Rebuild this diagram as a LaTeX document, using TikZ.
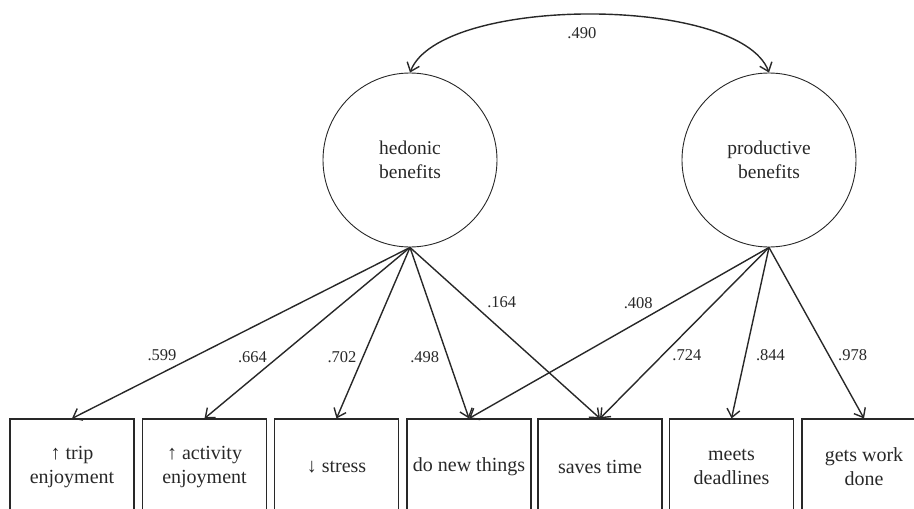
\documentclass[tikz,border=0pt]{standalone}
\usepackage{fontspec}
\setmainfont{Liberation Serif}
\usepackage{tikz}
\usetikzlibrary{arrows.meta}

\definecolor{ink}{RGB}{40,40,40}

\tikzset{
  latent/.style={draw=ink, line width=0.9pt, circle, minimum size=174pt, inner sep=0pt,
    align=center, text=ink, font=\fontsize{19.5}{23.5}\selectfont},
  indicator/.style={draw=ink, line width=1.1pt, rectangle, minimum width=124pt,
    minimum height=96pt, inner sep=0pt, align=center, text=ink, font=\fontsize{20}{24}\selectfont},
  loading/.style={draw=ink, line width=1.4pt, -{Straight Barb[length=8pt,width=13pt]}},
  coef/.style={text=ink, inner sep=0pt, font=\fontsize{16.5}{20}\selectfont}
}

\begin{document}
\begin{tikzpicture}[x=1pt, y=-1pt]
  \path[use as bounding box, clip] (0,0) rectangle (914,509);
  % latent factors
  \node[latent] (hed) at (410,160) {hedonic\\benefits};
  \node[latent] (prod) at (769,160) {productive\\benefits};
  % indicators
  \node[indicator] (trip) at (72,467) {↑ trip\\enjoyment};
  \node[indicator] (activ) at (204.5,467) {↑ activity\\enjoyment};
  \node[indicator] (stress) at (336.5,467) {↓ stress};
  \node[indicator] (newthings) at (469,467) {do new things};
  \node[indicator] (savetime) at (600,467) {saves time};
  \node[indicator] (deadl) at (731.5,467) {meets\\deadlines};
  \node[indicator] (workdone) at (864,467) {gets work\\done};
  % covariance between the factors
  \draw[loading, {Straight Barb[length=8pt,width=13pt]}-{Straight Barb[length=8pt,width=13pt]}]
    (hed.north) .. controls (440,-5) and (740,-5) .. (prod.north)
    node[coef, pos=0.5, xshift=-8pt, yshift=-19pt] {.490};
  % hedonic loadings
  \draw[loading] (hed.south) -- (trip.north) node[coef, pos=0.63, xshift=-35pt] {.599};
  \draw[loading] (hed.south) -- (activ.north) node[coef, pos=0.64, xshift=-26pt] {.664};
  \draw[loading] (hed.south) -- (stress.north) node[coef, pos=0.64, xshift=-21pt] {.702};
  \draw[loading] (hed.south) -- (newthings.north) node[coef, pos=0.64, xshift=-23pt] {.498};
  \draw[loading] (hed.south) -- (savetime.north) node[coef, pos=0.32, xshift=31pt] {.164};
  % productive loadings
  \draw[loading] (prod.south) -- (newthings.north) node[coef, pos=0.326, xshift=-33pt] {.408};
  \draw[loading] (prod.south) -- (savetime.north) node[coef, pos=0.628, xshift=24pt] {.724};
  \draw[loading] (prod.south) -- (deadl.north) node[coef, pos=0.628, xshift=25pt] {.844};
  \draw[loading] (prod.south) -- (workdone.north) node[coef, pos=0.628, xshift=24pt] {.978};
\end{tikzpicture}
\end{document}
